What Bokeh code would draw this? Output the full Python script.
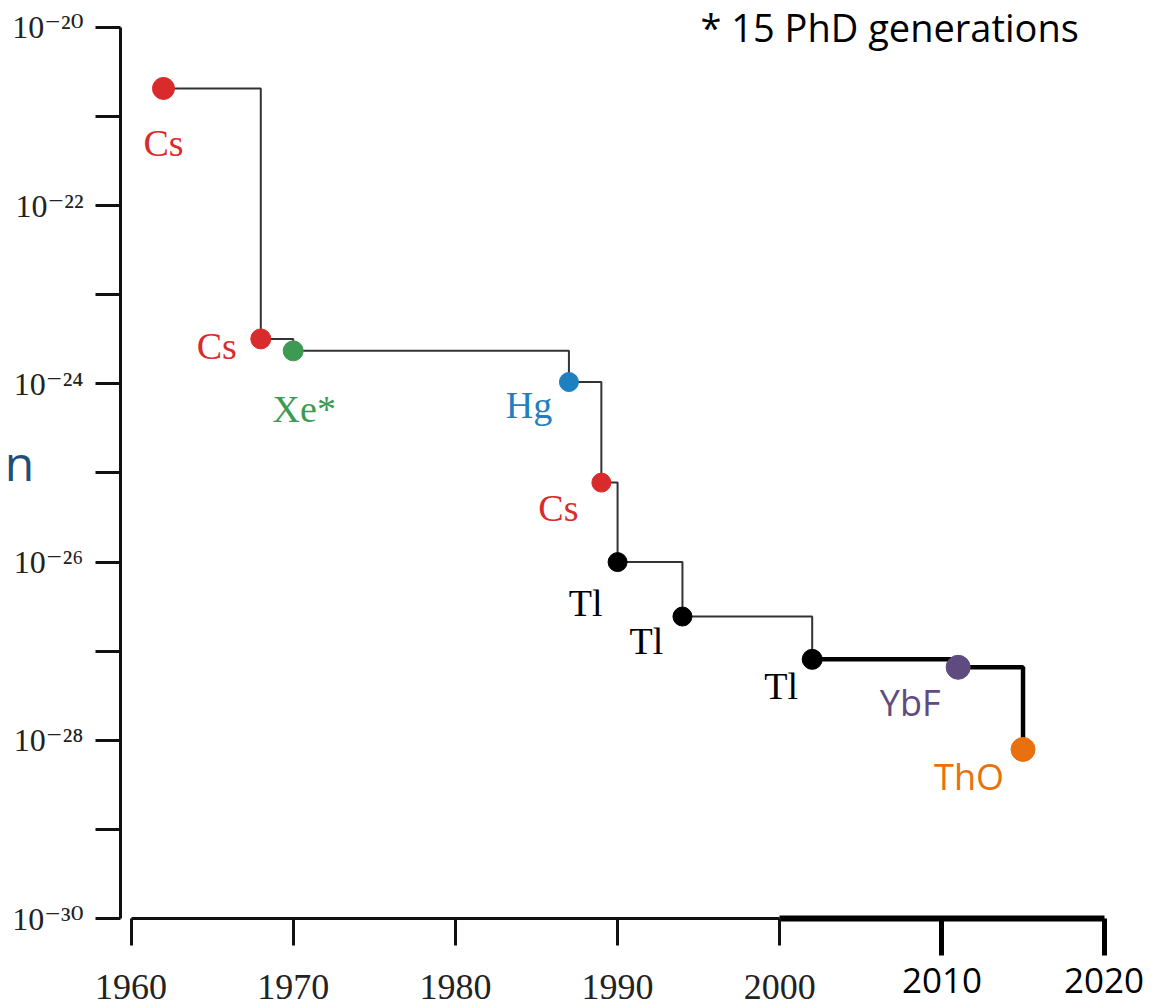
from bokeh.plotting import figure
from bokeh.models import (ColumnDataSource, LinearAxis, FixedTicker,
                          CustomJSTickFormatter, Label, Range1d)
from bokeh.embed import file_html
from bokeh.resources import INLINE

# ---------------- data ----------------
elements = ["Cs", "Cs", "Xe*", "Hg", "Cs", "Tl", "Tl", "Tl", "YbF", "ThO"]
years = [1962, 1968, 1970, 1987, 1989, 1990, 1994, 2002, 2011, 2015]
edm_limits = [2.07e-21, 3.2e-24, 2.35e-24, 1.05e-24, 7.8e-26,
              1.0e-26, 2.45e-27, 8.1e-28, 6.6e-28, 7.9e-29]

x_ticks_old = [1960, 1970, 1980, 1990, 2000]
x_ticks_new = [2010, 2020]
y_tick_values = [1e-20, 1e-21, 1e-22, 1e-23, 1e-24, 1e-25,
                 1e-26, 1e-27, 1e-28, 1e-29, 1e-30]
y_tick_exponents = [-20, -22, -24, -26, -28, -30]
y_tick_labels = ["10⁻²⁰", "10⁻²²", "10⁻²⁴", "10⁻²⁶", "10⁻²⁸", "10⁻³⁰"]
note_text = "* 15 PhD generations"
stray_text = "n"

# ---------------- styles ----------------
RED, GREEN, BLUE, BLACK = "#d92b2b", "#3c9a52", "#1f80c0", "#000000"
PURPLE, ORANGE = "#5f4b80", "#e8700e"
point_colors = [RED, RED, GREEN, BLUE, RED, BLACK, BLACK, BLACK, PURPLE, ORANGE]
point_sizes = [22, 20, 20, 19, 19, 19, 19, 20, 24, 24]
SERIF = "Liberation Serif"
SANS = "Open Sans"
label_fonts = [SERIF] * 8 + [SANS] * 2
label_sizes = ["38px"] * 8 + ["36px"] * 2
label_dx = [0, -44, 11, -40, -43, -32, -36, -31, -48, -54]
label_dy = [55, 7, 58, 23, 25, 41, 24, 27, 35, 27]

src = ColumnDataSource(dict(
    year=years, limit=edm_limits, element=elements,
    color=point_colors, size=point_sizes, font=label_fonts,
    fsize=label_sizes, dx=label_dx, dy=label_dy,
))

p = figure(width=1171, height=1006,
           x_range=Range1d(1959.35, 2022.86),
           y_range=Range1d(1e-30, 1.7655e-20),
           y_axis_type="log", x_axis_location=None,
           output_backend="svg", toolbar_location=None,
           min_border_left=120, min_border_right=21,
           min_border_top=5, min_border_bottom=88)
p.grid.visible = False
p.outline_line_color = None
p.background_fill_color = "white"

# step lines
n_old = 8
p.step(years[:n_old], edm_limits[:n_old], mode="after",
       line_color="#333333", line_width=2)
p.step(years[n_old - 1:], edm_limits[n_old - 1:], mode="after",
       line_color="#000000", line_width=4.5)

p.scatter("year", "limit", size="size", color="color", source=src)
p.text("year", "limit", text="element", x_offset="dx", y_offset="dy",
       text_font="font", text_font_size="fsize", text_color="color",
       text_align="center", text_baseline="middle", source=src)

# y axis
ya = p.yaxis[0]
ya.ticker = FixedTicker(ticks=y_tick_values)
ya.bounds = (1e-30, 1e-20)
ya.formatter = CustomJSTickFormatter(
    args=dict(exps=y_tick_exponents, labels=y_tick_labels),
    code="""
const e = Math.round(Math.log10(tick));
const i = exps.indexOf(e);
return i >= 0 ? labels[i] : "";
""")
ya.axis_line_width = 3
ya.axis_line_color = "#111111"
ya.major_tick_line_width = 3
ya.major_tick_line_color = "#111111"
ya.major_tick_out = 25
ya.major_tick_in = 0
ya.minor_tick_line_color = None
ya.major_label_text_font = "Liberation Serif, DejaVu Serif"
ya.major_label_text_font_size = "32px"
ya.major_label_text_color = "#222222"
ya.major_label_standoff = 12
ya.axis_label = stray_text
ya.axis_label_orientation = "horizontal"
ya.axis_label_text_font = SANS
ya.axis_label_text_font_style = "normal"
ya.axis_label_text_font_size = "48px"
ya.axis_label_text_color = "#1f4e79"
ya.axis_label_standoff = -25

blank = CustomJSTickFormatter(code='return "";')

# x axis part 1: bold line and bold ticks for the recent decades
xt = LinearAxis()
xt.ticker = FixedTicker(ticks=x_ticks_new)
xt.bounds = (2000, 2020)
xt.formatter = blank
xt.axis_line_width = 6
xt.axis_line_color = "#000000"
xt.major_tick_line_width = 5
xt.major_tick_line_color = "#000000"
xt.major_tick_out = 0
xt.major_tick_in = -37
xt.minor_tick_line_color = None
xt.major_label_text_font_size = "0px"
xt.major_label_standoff = 0
p.add_layout(xt, "below")

# x axis part 2: thin line, thin ticks, serif labels for the old decades
xa1 = LinearAxis()
xa1.ticker = FixedTicker(ticks=x_ticks_old)
xa1.bounds = (1960, 2000)
xa1.axis_line_width = 3
xa1.axis_line_color = "#111111"
xa1.major_tick_line_width = 3
xa1.major_tick_line_color = "#111111"
xa1.major_tick_out = 27
xa1.major_tick_in = 0
xa1.minor_tick_line_color = None
xa1.major_label_text_font = SERIF
xa1.major_label_text_font_size = "36px"
xa1.major_label_text_color = "#222222"
xa1.major_label_standoff = 29
p.add_layout(xa1, "below")

# x axis part 3: sans labels for the recent decades (labels only)
xa2 = LinearAxis()
xa2.ticker = FixedTicker(ticks=x_ticks_new)
xa2.bounds = (1960, 2020)
xa2.axis_line_color = None
xa2.major_tick_line_color = None
xa2.major_tick_out = 0
xa2.major_tick_in = 0
xa2.minor_tick_line_color = None
xa2.major_label_text_font = SANS
xa2.major_label_text_font_size = "35px"
xa2.major_label_text_color = "#000000"
xa2.major_label_standoff = -34
p.add_layout(xa2, "below")

# spacer axis that gives back the room taken by the stacked labels
xs = LinearAxis()
xs.ticker = FixedTicker(ticks=[x_ticks_new[-1]])
xs.bounds = (1960, 2020)
xs.formatter = CustomJSTickFormatter(code='return " ";')
xs.axis_line_color = None
xs.major_tick_line_color = None
xs.major_tick_out = 0
xs.major_tick_in = 0
xs.minor_tick_line_color = None
xs.major_label_text_font_size = "1px"
xs.major_label_standoff = -45
p.add_layout(xs, "below")

p.add_layout(Label(x=1995.11, y=1e-20, text=note_text, text_font=SANS,
                   text_font_size="38px", text_color="#000000",
                   text_align="left", text_baseline="middle"))

open("out.html", "w").write(file_html(p, INLINE))
